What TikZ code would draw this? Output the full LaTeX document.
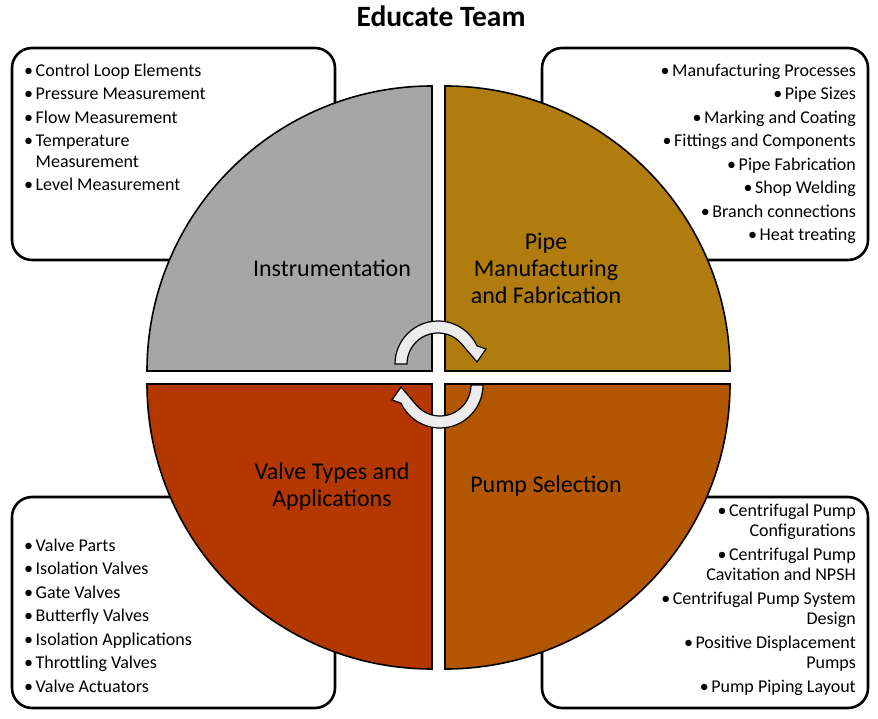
\documentclass[tikz,border=0pt]{standalone}
\usepackage{fontspec}
\setmainfont{Carlito}
\definecolor{figGy}{RGB}{166,166,166}
\definecolor{figGd}{RGB}{176,124,14}
\definecolor{figRd}{RGB}{180,55,0}
\definecolor{figBr}{RGB}{178,86,0}
\definecolor{figAr}{RGB}{236,236,236}
\newcommand{\bul}{\makebox[11.5pt][l]{\textbullet}}
\newcommand{\hang}{\makebox[11.5pt]{}}

\begin{document}
\begin{tikzpicture}[x=1pt,y=1pt,
  card/.style={draw,line width=2.6pt,rounded corners=20pt,fill=white},
  quad/.style={draw,line width=1.6pt},
  cyc/.style={draw,line width=1.2pt,fill=figAr},
  list/.style={inner sep=0pt,font=\fontsize{18}{20.5}\selectfont},
  lab/.style={inner sep=0pt,align=center,font=\fontsize{24}{27}\selectfont}]
\useasboundingbox (0,0) rectangle (878,-719);
\node[inner sep=0pt,anchor=base,font=\fontsize{29.5}{34}\selectfont\bfseries] (title) at (441,-27) {Educate Team};
% topic cards
\draw[card] (12,-48) rectangle (335,-260);
\draw[card] (542,-48) rectangle (868,-260);
\draw[card] (12,-497) rectangle (335,-708);
\draw[card] (542,-497) rectangle (868,-708);
% quarters of the disc
\draw[quad,fill=figGy] (432,-371) -- ++(-285,0) arc (180:90:285) -- cycle;
\draw[quad,fill=figGd] (445,-371) -- ++(0,285) arc (90:0:285) -- cycle;
\draw[quad,fill=figRd] (432,-384) -- ++(0,-285) arc (270:180:285) -- cycle;
\draw[quad,fill=figBr] (445,-384) -- ++(285,0) arc (0:-90:285) -- cycle;
% cycle arrows
\begin{scope}[shift={(438,-364)}]
\draw[cyc] (180:43) arc (180:25:43) -- (48,15) -- (39,2) -- (41:31) arc (41:180:31) -- cycle;
\end{scope}
\begin{scope}[shift={(440,-385)},rotate=180]
\draw[cyc] (180:43) arc (180:25:43) -- (48,15) -- (39,2) -- (41:31) arc (41:180:31) -- cycle;
\end{scope}
% quarter labels (base = last line)
\node[lab,anchor=base] (labInstr) at (332,-277) {Instrumentation};
\node[lab,anchor=base] (labPipe) at (546,-304) {Pipe\\Manufacturing\\and Fabrication};
\node[lab,anchor=base] (labValve) at (332,-506) {Valve Types and\\Applications};
\node[lab,anchor=base] (labPump) at (546,-492) {Pump Selection};
% lists
\node[list,align=left,anchor=base west] (listInstr) at (24,-191) {%
\bul Control Loop Elements\\[3pt]
\bul Pressure Measurement\\[3pt]
\bul Flow Measurement\\[3pt]
\bul Temperature\\
\hang Measurement\\[3pt]
\bul Level Measurement};
\node[list,align=right,anchor=base east] (listPipe) at (856,-241) {%
\bul Manufacturing Processes\\[3pt]
\bul Pipe Sizes\\[3pt]
\bul Marking and Coating\\[3pt]
\bul Fittings and Components\\[3pt]
\bul Pipe Fabrication\\[3pt]
\bul Shop Welding\\[3pt]
\bul Branch connections\\[3pt]
\bul Heat treating};
\node[list,align=left,anchor=base west] (listValve) at (24,-692) {%
\bul Valve Parts\\[3pt]
\bul Isolation Valves\\[3pt]
\bul Gate Valves\\[3pt]
\bul Butterfly Valves\\[3pt]
\bul Isolation Applications\\[3pt]
\bul Throttling Valves\\[3pt]
\bul Valve Actuators};
\node[list,align=right,anchor=base east] (listPump) at (856,-692) {%
\bul Centrifugal Pump\\
Configurations\\[3pt]
\bul Centrifugal Pump\\
Cavitation and NPSH\\[3pt]
\bul Centrifugal Pump System\\
Design\\[3pt]
\bul Positive Displacement\\
Pumps\\[3pt]
\bul Pump Piping Layout};
\end{tikzpicture}
\end{document}
